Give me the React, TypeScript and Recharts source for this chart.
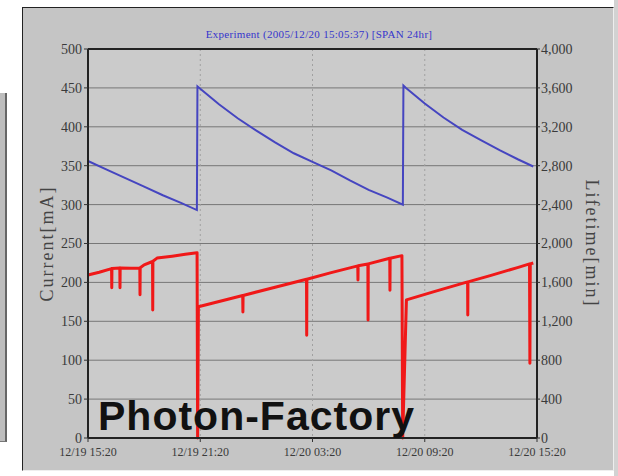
import {
  CartesianGrid,
  Line,
  LineChart,
  ReferenceLine,
  XAxis,
  YAxis,
} from "recharts";

// hours since 12/19 15:20
const timeTicks = [0, 6, 12, 18, 24];
const timeLabels = ["12/19 15:20", "12/19 21:20", "12/20 03:20", "12/20 09:20", "12/20 15:20"];
const currentTicks = [0, 50, 100, 150, 200, 250, 300, 350, 400, 450, 500];
const lifetimeTicks = [0, 400, 800, 1200, 1600, 2000, 2400, 2800, 3200, 3600, 4000];

// beam current [mA]
const currentHours = [
  0, 1, 2, 3, 4, 5, 5.82,
  5.85, 6, 7, 8, 9, 10, 11, 12, 13, 14, 15, 16, 16.83,
  16.86, 17, 18, 19, 20, 21, 22, 23, 23.8,
];
const currentMA = [
  356, 345, 334, 323, 312, 302, 293,
  452, 449, 429, 411, 395, 380, 366, 355, 344, 331, 319, 309, 300,
  453, 450, 430, 412, 396, 383, 370, 358, 349,
];

// lifetime [min]
const lifetimeHours = [
  0, 0.6, 1.26, 1.27, 1.28, 1.7, 1.71, 1.72, 2.3, 2.77, 2.78, 2.79, 3.0, 3.45, 3.46, 3.47,
  3.69, 4.5, 5.2, 5.83, 5.86, 5.9,
  8.27, 8.28, 8.29, 10, 11.68, 11.69, 11.7, 13, 14.42, 14.43, 14.44, 14.96, 14.97, 14.98,
  16.13, 16.14, 16.15, 16.78, 16.82, 17.02,
  18.5, 20.29, 20.3, 20.31, 21.5, 23, 23.6, 23.62, 23.64, 23.8,
];
const lifetimeMin = [
  1676, 1705, 1742, 1544, 1742, 1748, 1544, 1748, 1745, 1748, 1472, 1750, 1780, 1815, 1316, 1818,
  1850, 1870, 1890, 1905, 0, 1350,
  1466, 1296, 1466, 1550, 1632, 1056, 1632, 1700, 1770, 1624, 1772, 1790, 1213, 1790,
  1848, 1520, 1848, 1875, 0, 1420,
  1505, 1605, 1264, 1605, 1670, 1755, 1790, 768, 1790, 1800,
];

const currentData = currentHours.map((t, i) => ({ t, v: currentMA[i] }));
const lifetimeData = lifetimeHours.map((t, i) => ({ t, v: lifetimeMin[i] }));

const tickFont = { fontFamily: "Liberation Serif", fill: "#3a3a3a" };
const frame = { stroke: "#222", strokeWidth: 2 };

export default function App() {
  return (
    <div style={{ position: "absolute", left: 0, top: 0, width: 618, height: 476, background: "#fff", overflow: "hidden" }}>
      <div style={{ position: "absolute", left: 0, top: 93, width: 5, height: 348, background: "#bdbdbd", borderRight: "2px solid #666", borderBottom: "1px solid #777" }} />
      <div style={{ position: "absolute", left: 614, top: 0, width: 4, height: 476, background: "#d2d2d2" }} />
      <div style={{ position: "absolute", left: 22, top: 7, width: 590, height: 462, background: "#c5c5c5", borderTop: "1px solid #222", borderLeft: "1px solid #222", borderRight: "1px solid #eee", borderBottom: "1px solid #eee" }} />
      <div style={{ position: "absolute", left: 22, top: 7 }}>
        <LineChart width={591} height={463} margin={{ top: 42, right: 0, bottom: 0, left: 0 }}>
          <CartesianGrid yAxisId="left" vertical={false} stroke="#777" fill="#cbcbcb" />
          <CartesianGrid yAxisId="left" horizontal={false} stroke="#a0a0a0" strokeDasharray="2 3" />
          <XAxis
            type="number"
            dataKey="t"
            domain={[0, 24]}
            ticks={timeTicks}
            interval={0}
            height={32}
            tickFormatter={(v: number) => timeLabels[timeTicks.indexOf(v)]}
            tick={{ ...tickFont, fontSize: 12 }}
            tickSize={4}
            tickMargin={5}
            tickLine={{ stroke: "#333" }}
            axisLine={frame}
          />
          <YAxis
            yAxisId="left"
            domain={[0, 500]}
            ticks={currentTicks}
            interval={0}
            width={66}
            tick={{ ...tickFont, fontSize: 14 }}
            tickSize={4}
            tickMargin={2}
            tickLine={{ stroke: "#333" }}
            axisLine={frame}
            label={{
              value: "Current[mA]",
              angle: -90,
              position: "center",
              dx: -8,
              style: { fontFamily: "Liberation Serif", fontSize: 18, letterSpacing: 2, fill: "#444" },
            }}
          />
          <YAxis
            yAxisId="right"
            orientation="right"
            domain={[0, 4000]}
            ticks={lifetimeTicks}
            interval={0}
            width={76}
            tickFormatter={(v: number) => v.toLocaleString("en-US")}
            tick={{ ...tickFont, fontSize: 14 }}
            tickSize={3}
            tickMargin={1}
            tickLine={{ stroke: "#333" }}
            axisLine={frame}
            label={{
              value: "Lifetime[min]",
              angle: 90,
              position: "center",
              dx: 17,
              style: { fontFamily: "Liberation Serif", fontSize: 18, letterSpacing: 2, fill: "#444" },
            }}
          />
          <ReferenceLine yAxisId="left" y={500} stroke="#222" strokeWidth={2} />
          <Line
            yAxisId="left"
            data={currentData}
            dataKey="v"
            type="linear"
            stroke="#4545c0"
            strokeWidth={2}
            dot={false}
            isAnimationActive={false}
          />
          <Line
            yAxisId="right"
            data={lifetimeData}
            dataKey="v"
            type="linear"
            stroke="#f01818"
            strokeWidth={3}
            strokeLinejoin="round"
            dot={false}
            isAnimationActive={false}
          />
        </LineChart>
      </div>
      <svg width={618} height={476} style={{ position: "absolute", left: 0, top: 0, pointerEvents: "none" }}>
        <text x={319} y={38} textAnchor="middle" fontFamily="Liberation Serif" fontSize={11} letterSpacing={0.3} fill="#3535cc">
          Experiment  (2005/12/20 15:05:37) [SPAN 24hr]
        </text>
        <text x={98} y={430} fontFamily="Liberation Sans" fontWeight="bold" fontSize={41} letterSpacing={1} fill="#111">
          Photon-Factory
        </text>
      </svg>
    </div>
  );
}
